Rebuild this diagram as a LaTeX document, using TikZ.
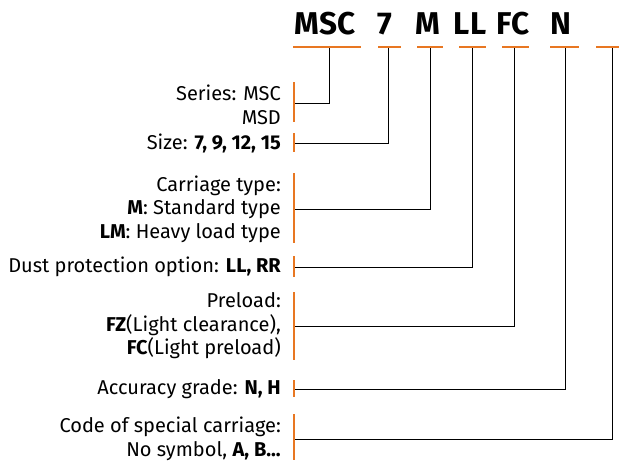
\documentclass[tikz,border=0pt]{standalone}
\usepackage{fontspec}
\setmainfont{Fira Sans}
\definecolor{codeorange}{RGB}{232,119,34}
\begin{document}
\begin{tikzpicture}[x=1pt,y=-1pt,
    code/.style={font=\fontsize{31.5}{31.5}\selectfont\bfseries,inner sep=0pt,anchor=base},
    lbl/.style={font=\fontsize{20}{23.5}\selectfont,align=right,anchor=east,inner sep=0pt},
    bar/.style={codeorange,line width=2.2pt},
    link/.style={black,line width=0.7pt}]
  \useasboundingbox (0,0) rectangle (619,461);
  % model code
  \node[code] (msc) at (325,34) {MSC};
  \node[code] (seven) at (385,34) {7};
  \node[code] (m) at (428,34) {M};
  \node[code] (ll) at (470,34) {LL};
  \node[code] (fc) at (513,34) {FC};
  \node[code] (n) at (561,34) {N};
  % underlines
  \foreach \a/\b/\v/\u in {293/361/329/msc, 378/401/388/seven, 417/443/430/m,
      459/486/472/ll, 502/529/514/fc, 550/579/565/n, 596/619/612/x} {
    \draw[bar] (\a,47) -- (\b,47);
    \coordinate (u-\u) at (\v,48);
  }
  % descriptions
  \node[lbl] (series) at (281,105) {Series: MSC\\MSD};
  \node[lbl] (size) at (281,143) {Size: \textbf{7, 9, 12, 15}};
  \node[lbl] (carriage) at (281,209) {Carriage type:\\\textbf{M}: Standard type\\\textbf{LM}: Heavy load type};
  \node[lbl] (dust) at (281,267) {Dust protection option: \textbf{LL, RR}};
  \node[lbl] (preload) at (281,326) {Preload:\\\textbf{FZ}(Light clearance),\\\textbf{FC}(Light preload)\hspace{5pt}};
  \node[lbl] (accuracy) at (281,389) {Accuracy grade: \textbf{N, H}};
  \node[lbl] (special) at (281,439) {Code of special carriage:\\No symbol, \textbf{A, B...}};
  % brackets and leaders
  \foreach \n/\y/\t/\b/\u in {series/103/82/122/msc, size/143/133/152/seven,
      carriage/209/173/243/m, dust/267/256/277/ll, preload/326/292/360/fc,
      accuracy/389/380/397/n, special/439/414/460/x} {
    \draw[bar] (294,\t) -- (294,\b);
    \coordinate (b-\n) at (295,\y);
    \draw[link] (b-\n) -| (u-\u);
  }
\end{tikzpicture}
\end{document}
